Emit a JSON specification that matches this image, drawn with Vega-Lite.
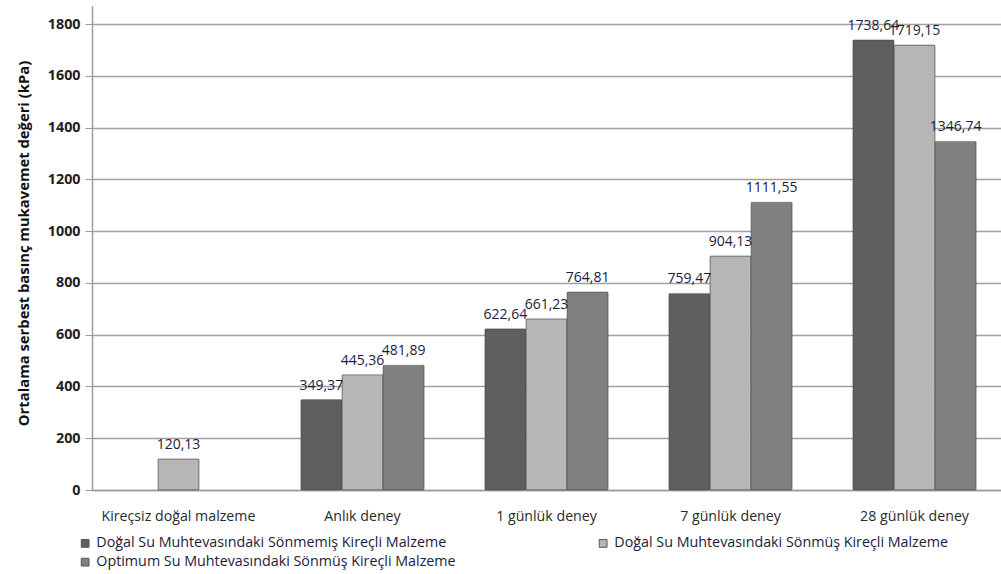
{
  "$schema": "https://vega.github.io/schema/vega-lite/v6.json",
  "autosize": {"type": "none"},
  "padding": {"left": 92, "top": 6, "right": 0, "bottom": 84},
  "width": 909,
  "height": 484,
  "config": {
    "locale": {"number": {"decimal": ",", "thousands": ".", "grouping": [3], "currency": ["", ""]}},
    "font": "Open Sans",
    "view": {"stroke": null}
  },
  "data": {
    "values": [
      {"kategori": "Kireçsiz doğal malzeme", "seri": "Doğal Su Muhtevasındaki Sönmüş Kireçli Malzeme", "deger": 120.13},
      {"kategori": "Anlık deney", "seri": "Doğal Su Muhtevasındaki Sönmemiş Kireçli Malzeme", "deger": 349.37},
      {"kategori": "Anlık deney", "seri": "Doğal Su Muhtevasındaki Sönmüş Kireçli Malzeme", "deger": 445.36},
      {"kategori": "Anlık deney", "seri": "Optimum Su Muhtevasındaki Sönmüş Kireçli Malzeme", "deger": 481.89},
      {"kategori": "1 günlük deney", "seri": "Doğal Su Muhtevasındaki Sönmemiş Kireçli Malzeme", "deger": 622.64},
      {"kategori": "1 günlük deney", "seri": "Doğal Su Muhtevasındaki Sönmüş Kireçli Malzeme", "deger": 661.23},
      {"kategori": "1 günlük deney", "seri": "Optimum Su Muhtevasındaki Sönmüş Kireçli Malzeme", "deger": 764.81},
      {"kategori": "7 günlük deney", "seri": "Doğal Su Muhtevasındaki Sönmemiş Kireçli Malzeme", "deger": 759.47},
      {"kategori": "7 günlük deney", "seri": "Doğal Su Muhtevasındaki Sönmüş Kireçli Malzeme", "deger": 904.13},
      {"kategori": "7 günlük deney", "seri": "Optimum Su Muhtevasındaki Sönmüş Kireçli Malzeme", "deger": 1111.55},
      {"kategori": "28 günlük deney", "seri": "Doğal Su Muhtevasındaki Sönmemiş Kireçli Malzeme", "deger": 1738.64},
      {"kategori": "28 günlük deney", "seri": "Doğal Su Muhtevasındaki Sönmüş Kireçli Malzeme", "deger": 1719.15},
      {"kategori": "28 günlük deney", "seri": "Optimum Su Muhtevasındaki Sönmüş Kireçli Malzeme", "deger": 1346.74}
    ]
  },
  "encoding": {
    "x": {
      "field": "kategori", "type": "nominal", "sort": null,
      "scale": {"paddingInner": 0.33, "paddingOuter": 0.135},
      "axis": {"title": null, "labelAngle": 0, "labelFontSize": 14.2, "labelColor": "#2a2a2a", "labelPadding": 19, "ticks": false, "domainColor": "#9a9a9a", "domainWidth": 1.5}
    },
    "xOffset": {"field": "seri", "type": "nominal", "sort": [
      "Doğal Su Muhtevasındaki Sönmemiş Kireçli Malzeme",
      "Doğal Su Muhtevasındaki Sönmüş Kireçli Malzeme",
      "Optimum Su Muhtevasındaki Sönmüş Kireçli Malzeme"
    ], "scale": {"paddingInner": 0, "paddingOuter": 0}},
    "y": {
      "field": "deger", "type": "quantitative",
      "scale": {"domain": [0, 1870], "nice": false},
      "axis": {
        "title": "Ortalama serbest basınç mukavemet değeri (kPa)", "titleFontSize": 14.8, "titleFontWeight": "bold", "titleColor": "#111", "titlePadding": 16, "titleY": 237, "titleAnchor": null,
        "format": "d", "values": [0, 200, 400, 600, 800, 1000, 1200, 1400, 1600, 1800], "labelOverlap": false,
        "labelFontSize": 14.3, "labelFontWeight": "bold", "labelColor": "#222", "labelPadding": 5,
        "tickSize": 7, "tickColor": "#9a9a9a", "domainColor": "#9a9a9a", "domainWidth": 1.5,
        "grid": true, "gridColor": "#a0a0a0", "gridWidth": 1.4
      }
    }
  },
  "layer": [
    {
      "mark": {"type": "bar", "stroke": "#4a4a4a", "strokeWidth": 1, "strokeOpacity": 0.5, "cornerRadius": 1},
      "encoding": {
        "color": {
          "field": "seri", "type": "nominal",
          "scale": {
            "domain": [
              "Doğal Su Muhtevasındaki Sönmemiş Kireçli Malzeme",
              "Doğal Su Muhtevasındaki Sönmüş Kireçli Malzeme",
              "Optimum Su Muhtevasındaki Sönmüş Kireçli Malzeme"
            ],
            "range": ["#5f5f5f", "#b6b6b6", "#808080"]
          },
          "legend": {
            "title": null, "orient": "none", "legendX": -14, "legendY": 530,
            "direction": "horizontal", "columns": 2, "columnPadding": 140, "rowPadding": 4,
            "symbolType": "square", "symbolSize": 60, "symbolStrokeColor": "#555", "symbolStrokeWidth": 1,
            "labelFontSize": 14.3, "labelColor": "#1c1c3a", "labelOffset": 4, "labelLimit": 400
          }
        }
      }
    },
    {
      "mark": {"type": "text", "baseline": "bottom", "dy": -7, "fontSize": 14, "color": "#1c1c3a"},
      "encoding": {
        "text": {"field": "deger", "type": "quantitative", "format": ".2f"}
      }
    }
  ]
}
